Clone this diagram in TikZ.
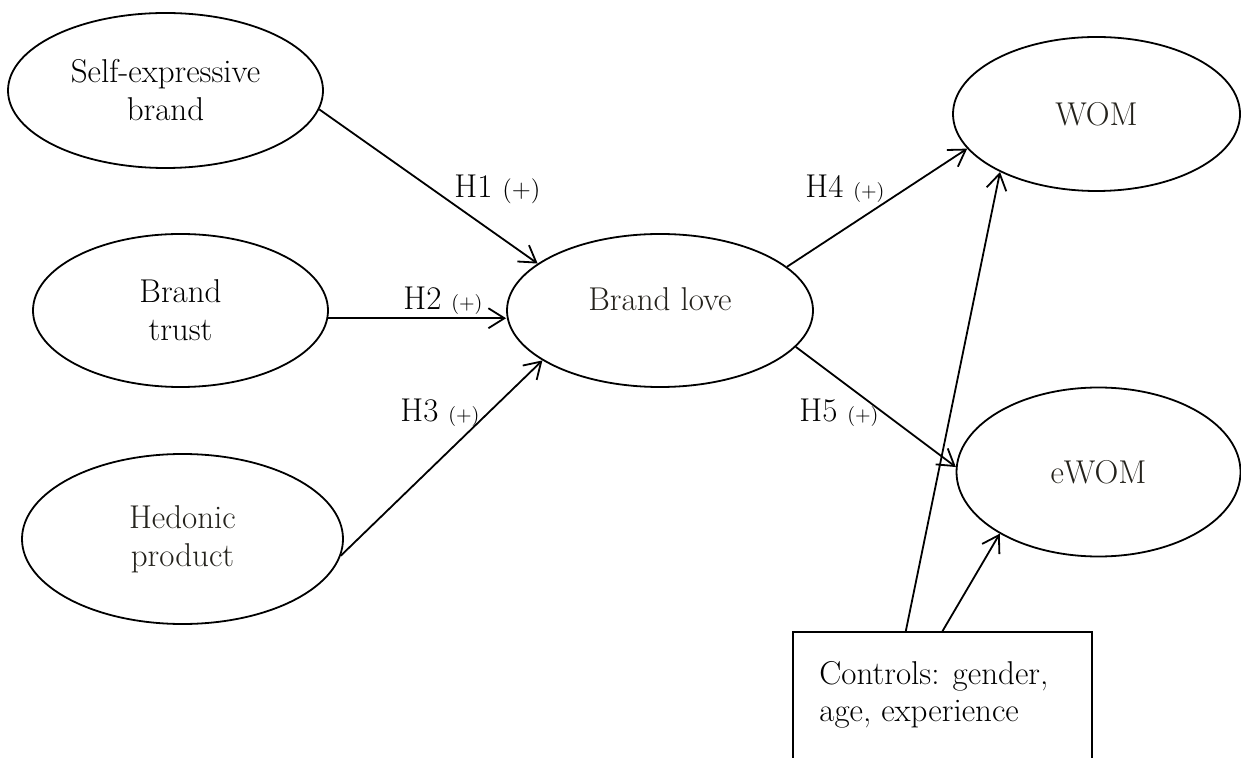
\documentclass[tikz,border=0pt]{standalone}
\usetikzlibrary{shapes.geometric,arrows.meta,calc}
\definecolor{txtdark}{RGB}{36,34,28}
\newcommand\plusbig{{\fontsize{12.5}{14}\selectfont(+)}}
\newcommand\plussmall{{\fontsize{10}{11}\selectfont(+)}}
\begin{document}
\begin{tikzpicture}[x=0.5pt,y=-0.5pt,
  every node/.style={font=\fontsize{16.5}{19}\selectfont},
  var/.style={ellipse, draw, line width=0.9pt, inner sep=0pt, align=center},
  hyp/.style={-{Straight Barb[length=8pt,width=10pt,line width=0.9pt]}, line width=0.9pt},
  lab/.style={anchor=base west, inner sep=0pt}
]
\useasboundingbox (0,0) rectangle (1241,758);
\clip (0,0) rectangle (1241,758);

% constructs
\node[var, minimum width=157.5pt, minimum height=77.5pt] (se) at (165.5,90.5) {Self-expressive\\brand};
\node[var, minimum width=147.5pt, minimum height=76.5pt] (bt) at (180.5,310.5) {Brand\\trust};
\node[var, text=txtdark, minimum width=160.5pt, minimum height=85pt] (hp) at (182.5,539) {Hedonic\\product};
\node[var, text=txtdark, minimum width=153pt, minimum height=76.5pt] (bl) at (660,310.5) {\raisebox{5.5pt}[\height][\depth]{Brand love}};
\node[var, text=txtdark, minimum width=143.5pt, minimum height=77pt] (wom) at (1096.5,114) {WOM};
\node[var, text=txtdark, minimum width=142pt, minimum height=84.5pt] (ewom) at (1098.5,472) {eWOM};

% controls box
\node[draw, line width=0.9pt, rectangle, inner sep=0pt, minimum width=149.5pt, minimum height=84pt] (ctrl) at (942.5,716) {};
\node[anchor=north west, inner sep=0pt, align=left, font=\fontsize{16.5}{18.5}\selectfont] (ctrltext) at (819,661) {Controls: gender,\\age, experience};

% hypotheses
\draw[hyp] (se.-7.8) -- (bl.159.4);
\draw[hyp] (bt.-3.6) -- (bt.-3.6 -| bl.west);
\draw[hyp] (hp.-6) -- (bl.203.6);
\draw[hyp] (bl.19.45) -- (wom.195);
\draw[hyp] (bl.-15.1) -- (ewom.178);
\draw[hyp] ($(ctrl.north west)!0.378!(ctrl.north east)$) -- (wom.211.4);
\draw[hyp] (ctrl.north) -- (ewom.212.3);

% labels
\node[lab] (h1) at (454,198) {H1 \plusbig};
\node[lab] (h2) at (403,310) {H2 \plussmall};
\node[lab] (h3) at (400,422) {H3 \plussmall};
\node[lab] (h4) at (805,198) {H4 \plussmall};
\node[lab] (h5) at (799,422) {H5 \plussmall};
\end{tikzpicture}
\end{document}
